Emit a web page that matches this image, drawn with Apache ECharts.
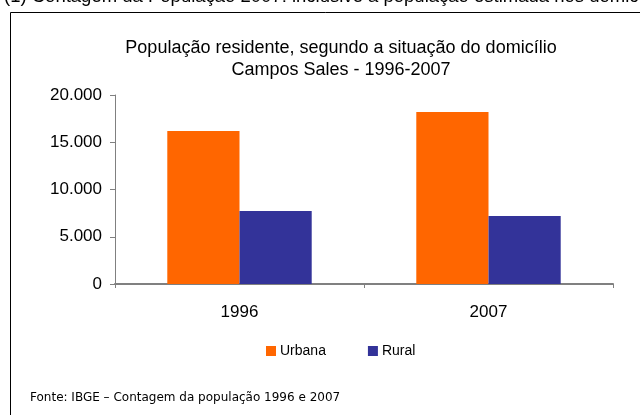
<!DOCTYPE html>
<html><head><meta charset="utf-8">
<script src="https://cdn.jsdelivr.net/npm/echarts@6/dist/echarts.min.js"></script>
<style>html,body{margin:0;padding:0;background:#fff}#c{width:640px;height:415px}</style>
</head><body><div id="c"></div>
<script>
const categories = ['1996', '2007'];
const urbana = [16190, 18200];
const rural = [7720, 7200];
const yTicks = [0, 5000, 10000, 15000, 20000];

const chart = echarts.init(document.getElementById('c'));
const fmt = v => v === 0 ? '0' : v.toLocaleString('de-DE');
chart.setOption({
  animation: false,
  textStyle: { fontFamily: 'Liberation Sans, Arial, sans-serif' },
  title: {
    text: 'População residente, segundo a situação do domicílio\nCampos Sales - 1996-2007',
    left: 336, textAlign: 'center', top: 32,
    textStyle: { fontSize: 18, fontWeight: 'normal', color: '#000', lineHeight: 22 }
  },
  graphic: [
    { type: 'rect', shape: { x: 10.5, y: 12.5, width: 700, height: 500 }, style: { fill: 'none', stroke: '#000', lineWidth: 1 } },
    { type: 'text', left: 4, top: -13, style: { text: '(1) Contagem da População 2007: inclusive a população estimada nos domicílios fechados', fontSize: 18.5, fill: '#000', fontFamily: 'Liberation Sans, Arial, sans-serif' } },
    { type: 'text', left: 30, top: 392, style: { text: 'Fonte: IBGE – Contagem da população 1996 e 2007', fontSize: 12, fill: '#000', fontFamily: 'DejaVu Sans, sans-serif' } }
  ],
  legend: {
    data: ['Urbana', 'Rural'], left: 266, top: 344, padding: 0, itemWidth: 10, itemHeight: 10, itemGap: 42,
    icon: 'rect', textStyle: { fontSize: 14, color: '#000', padding: [0, 0, 0, -1] }
  },
  grid: { left: 115, top: 95, width: 498, height: 189 },
  xAxis: {
    type: 'category', data: categories,
    axisLine: { lineStyle: { color: '#808080', width: 2 } },
    axisTick: { show: true, length: 4, lineStyle: { color: '#808080' } },
    axisLabel: { fontSize: 17, color: '#000', margin: 20 }
  },
  yAxis: {
    type: 'value', min: 0, max: 20000, interval: 5000,
    axisLine: { show: true, lineStyle: { color: '#808080' } },
    axisTick: { show: true, length: 5, lineStyle: { color: '#808080' } },
    splitLine: { show: false },
    axisLabel: { fontSize: 17, color: '#000', margin: 13, formatter: fmt }
  },
  series: [
    { name: 'Urbana', type: 'bar', data: urbana, itemStyle: { color: '#FF6600' }, barGap: '0%', barCategoryGap: '42%' },
    { name: 'Rural', type: 'bar', data: rural, itemStyle: { color: '#333399' } }
  ]
});
</script></body></html>
